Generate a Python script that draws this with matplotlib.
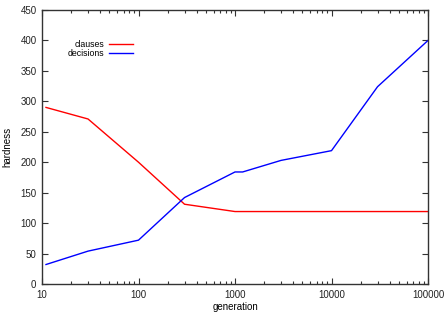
"""Hardness vs generation (gnuplot-style line chart)."""
import matplotlib
matplotlib.use("Agg")
import matplotlib.pyplot as plt
from matplotlib.ticker import LogLocator, FixedLocator, NullFormatter

# Data.
clauses_gen = [11, 30, 100, 300, 1000, 3000, 10000, 30000, 100000]
clauses = [290, 271, 200, 131, 119, 119, 119, 119, 119]
decisions_gen = [11, 30, 100, 300, 1000, 1200, 3000, 10000, 30000, 100000]
decisions = [32, 54, 72, 142, 184, 184, 203, 219, 324, 400]

xticks = [10, 100, 1000, 10000, 100000]
xticklabels = ["10", "100", "1000", "10000", "100000"]
yticks = [0, 50, 100, 150, 200, 250, 300, 350, 400, 450]

plt.rcParams.update({'font.family': ['Liberation Sans', 'DejaVu Sans'],
                     'font.size': 7})

fig = plt.figure(figsize=(4.44, 3.12), dpi=100)
ax = fig.add_axes([42 / 444, 28 / 312, 386 / 444, 274 / 312])

ax.plot(clauses_gen, clauses, color="#ff0000", linewidth=1.0, label="clauses")
ax.plot(decisions_gen, decisions, color="#0000ff", linewidth=1.0,
        label="decisions")

ax.set_xscale("log")
ax.set_xlim(10, 100000)
ax.set_ylim(0, 450)
ax.xaxis.set_major_locator(FixedLocator(xticks))
ax.set_xticklabels(xticklabels)
ax.xaxis.set_minor_locator(LogLocator(base=10, subs=range(2, 10)))
ax.xaxis.set_minor_formatter(NullFormatter())
ax.set_yticks(yticks)

ax.tick_params(which="both", direction="in", top=True, right=True,
               color="#333333", width=0.8, labelcolor="#222222")
ax.tick_params(which="major", length=4, pad=4)
ax.tick_params(which="minor", length=2)
for sp in ax.spines.values():
    sp.set_color("#333333")
    sp.set_linewidth(1.0)

ax.set_xlabel("generation", labelpad=2)
ax.set_ylabel("hardness", labelpad=6)

ax.legend(loc="upper right", bbox_to_anchor=(0.246, 0.905), frameon=False,
          markerfirst=False, handlelength=2.7, handletextpad=0.5,
          labelspacing=0.0, borderpad=0, fontsize=6.3)

fig.savefig("out.png", dpi=100)
